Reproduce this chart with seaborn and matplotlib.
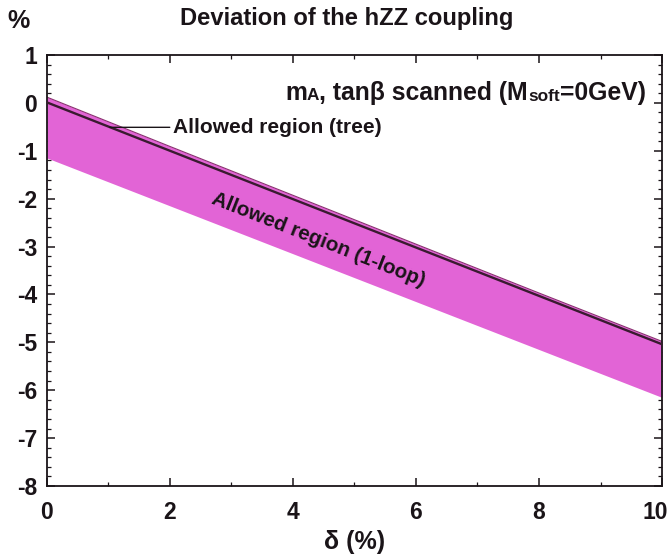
import matplotlib
matplotlib.use("Agg")
import matplotlib.pyplot as plt
from matplotlib.ticker import MultipleLocator
from matplotlib.transforms import ScaledTranslation, offset_copy
import pandas as pd
import seaborn as sns

# Deviation of the hZZ coupling versus delta (%)
delta = [0, 2, 4, 6, 8, 10]
loop_upper = [0.12, -0.91, -1.93, -2.95, -3.97, -4.98]
loop_lower = [-1.15, -2.15, -3.15, -4.15, -5.15, -6.15]
tree = [0.01, -1.00, -2.01, -3.02, -4.03, -5.04]

x_ticks = [0, 2, 4, 6, 8, 10]
y_ticks = [1, 0, -1, -2, -3, -4, -5, -6, -7, -8]

sns.set_theme(style="ticks")
plt.rcParams["font.family"] = ["Liberation Sans", "DejaVu Sans"]
plt.rcParams["axes.unicode_minus"] = False

ink = "#1a1418"
band_color = "#e264d6"
edge_color = "#8a3070"

fig = plt.figure(figsize=(6.71, 5.59), dpi=100)
ax = fig.add_axes([0.070, 0.1306, 0.9166, 0.771])

df = pd.DataFrame({"delta": delta, "upper": loop_upper,
                   "lower": loop_lower, "tree": tree})

ax.fill_between(df["delta"], df["lower"], df["upper"],
                color=band_color, linewidth=0, zorder=1)
sns.lineplot(data=df, x="delta", y="upper", ax=ax, color=edge_color,
             linewidth=0.8, zorder=2)
sns.lineplot(data=df, x="delta", y="tree", ax=ax, color="#3a1a30",
             linewidth=1.7, zorder=3)

ax.set_xlim(0, 10)
ax.set_ylim(-8, 1)
ax.set_xticks(x_ticks)
ax.set_yticks(y_ticks)
ax.xaxis.set_minor_locator(MultipleLocator(1))
ax.yaxis.set_minor_locator(MultipleLocator(0.2))
ax.tick_params(which="both", direction="in", top=True, right=True,
               color=ink, labelcolor=ink)
ax.tick_params(which="major", length=6, width=1.1, labelsize=16.5)
ax.tick_params(axis="x", which="major", pad=11)
ax.tick_params(axis="y", which="major", pad=7)
ax.tick_params(which="minor", length=3, width=0.9)
for lbl in ax.get_xticklabels() + ax.get_yticklabels():
    lbl.set_fontweight("bold")
last = ax.get_xticklabels()[-1]
last.set_transform(last.get_transform()
                   + ScaledTranslation(-0.07, 0, fig.dpi_scale_trans))
for s in ax.spines.values():
    s.set_color(ink)
    s.set_linewidth(1.3)

ax.set_xlabel("δ (%)", fontsize=18, color=ink, labelpad=4, fontweight="bold")
ax.set_ylabel("")
fig.text(0.027, 0.963, "%", fontsize=18, color=ink, ha="center", va="center",
         fontweight="bold")
fig.text(0.516, 0.955, "Deviation of the hZZ coupling", fontsize=17.1,
         color=ink, ha="center", va="baseline", fontweight="bold")


def rich_text(ax, x, y, pieces):
    """Draw text pieces side by side on one baseline."""
    renderer = ax.figure.canvas.get_renderer()
    dx = 0.0
    for s, size, dy in pieces:
        tr = offset_copy(ax.transData, fig=ax.figure, x=dx, y=dy,
                         units="dots")
        t = ax.text(x, y, s, transform=tr, ha="left", va="baseline",
                    fontsize=size, color=ink, fontweight="bold")
        dx += t.get_window_extent(renderer).width


big, small = 17.8, 12.4
rich_text(ax, 3.87, 0.06, [("m", big, 0), ("A", small, 0),
                           (", tanβ scanned (M", big, 0),
                           ("soft", small, -1), ("=0GeV)", big, 0)])

ax.annotate("Allowed region (tree)", xy=(1.02, -0.51), xytext=(2.05, -0.51),
            fontsize=15, color=ink, ha="left", va="center",
            fontweight="bold",
            arrowprops=dict(arrowstyle="-", color=ink, lw=1.0,
                            shrinkA=0, shrinkB=0))

ax.text(4.41, -2.86, "Allowed region (1-loop)", fontsize=14.8, color=ink,
        ha="center", va="center", rotation=-21.5, rotation_mode="anchor",
        fontweight="bold")

fig.savefig("out.png", dpi=100, facecolor="white")
